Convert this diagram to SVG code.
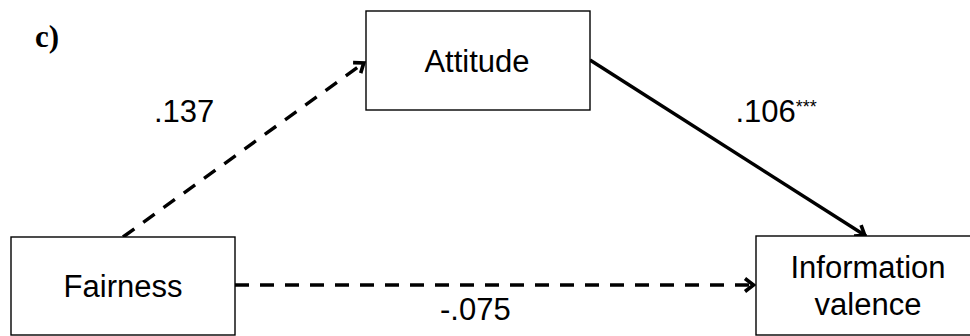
<svg xmlns="http://www.w3.org/2000/svg" width="970" height="336" viewBox="0 0 970 336">
<style>
.box{fill:#fff;stroke:#000;stroke-width:1.4}
.lbl{font-family:"Liberation Sans",Arial,sans-serif;font-size:31px;fill:#000}
.ctr{text-anchor:middle}
.conn{fill:none;stroke:#000;stroke-width:3.4}
.dash{stroke-dasharray:14 11}
.head{fill:none;stroke:#000;stroke-width:3.6;stroke-dasharray:none}
.title{font-family:"Liberation Serif","Times New Roman",serif;font-weight:bold;font-size:31px;fill:#000}
.sup{font-size:18px}
</style>
<defs>
<marker id="arr" markerUnits="userSpaceOnUse" viewBox="-14 -9 16 18" markerWidth="16" markerHeight="18" refX="0" refY="0" orient="auto" overflow="visible">
<path class="head" d="M-10,-6.5 L-1.5,0 L-10,6.5"/>
</marker>
</defs>
<rect width="970" height="336" fill="#fff"/>
<text class="title" x="35" y="47">c)</text>
<g id="connectors">
<line class="conn dash" x1="123" y1="237" x2="365" y2="62" marker-end="url(#arr)"/>
<line class="conn" x1="590" y1="60" x2="866" y2="236" marker-end="url(#arr)"/>
<line class="conn dash" x1="235" y1="285" x2="755" y2="285" marker-end="url(#arr)"/>
<text class="lbl" x="154" y="122">.137</text>
<text class="lbl" x="735.5" y="122">.106<tspan class="sup" dy="-8.7">***</tspan></text>
<text class="lbl" x="440" y="320">-.075</text>
</g>
<g id="attitude">
<rect class="box" x="366" y="11" width="224" height="99"/>
<text class="lbl ctr" x="477" y="72">Attitude</text>
</g>
<g id="fairness">
<rect class="box" x="11" y="237" width="224" height="98"/>
<text class="lbl ctr" x="123" y="297">Fairness</text>
</g>
<g id="information-valence">
<rect class="box" x="756" y="236" width="224" height="99"/>
<text class="lbl ctr" x="868" y="278">Information</text>
<text class="lbl ctr" x="868" y="315">valence</text>
</g>
</svg>
